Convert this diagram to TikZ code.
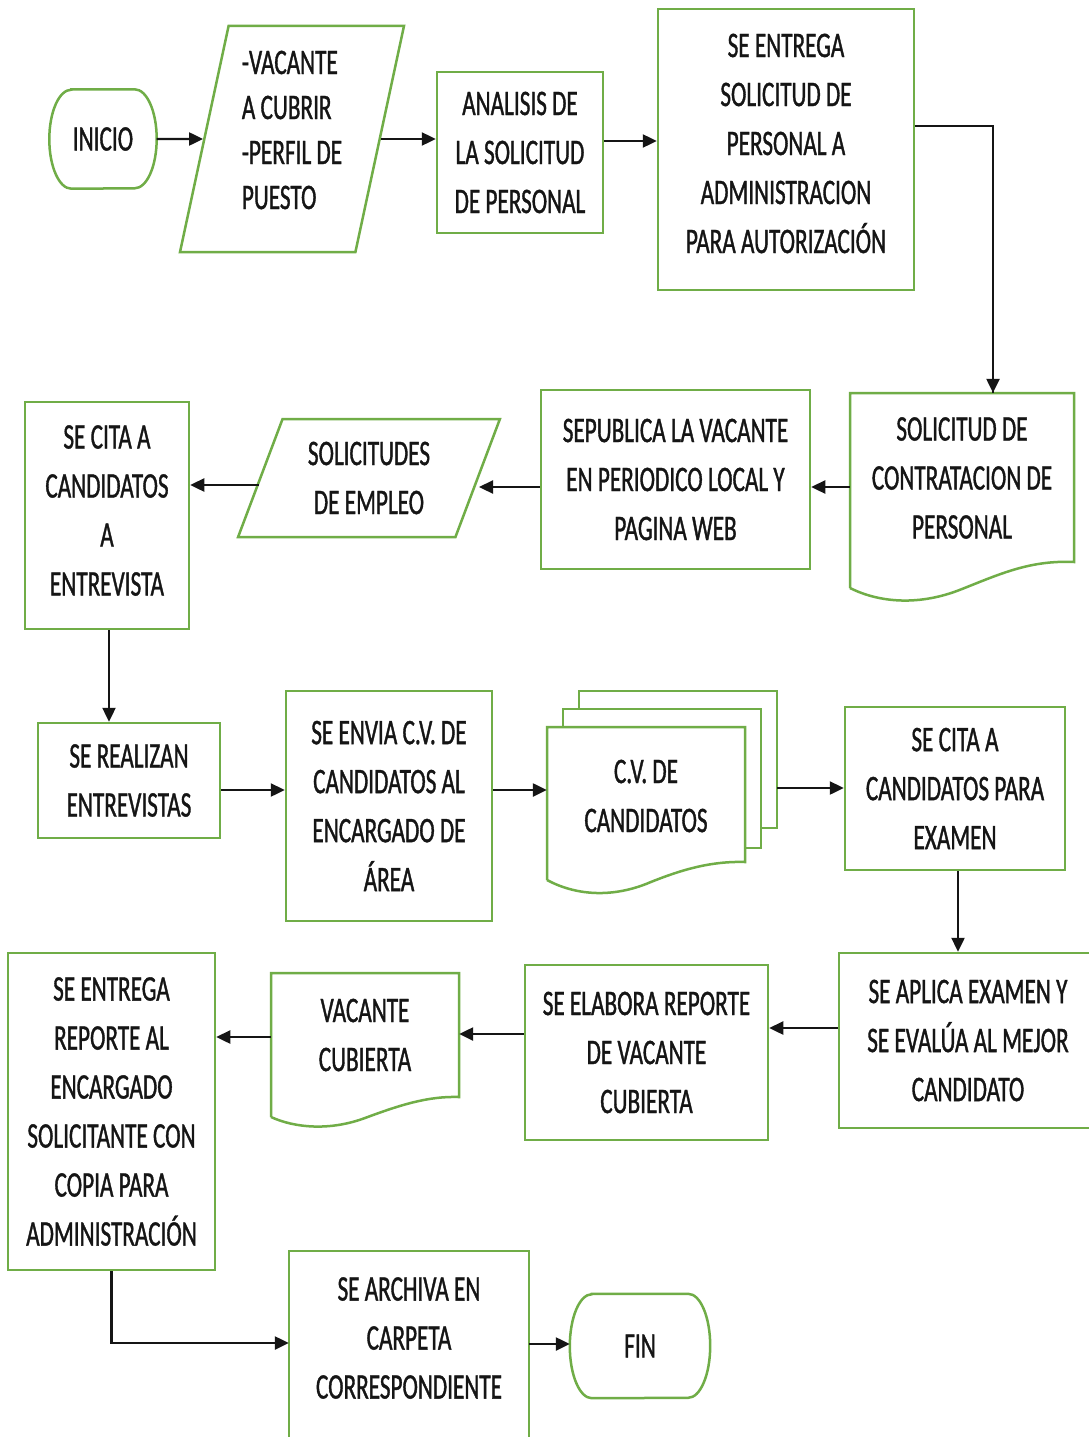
\documentclass[tikz,border=0pt]{standalone}
\usepackage{fontspec}
\setmainfont{Carlito}[FakeStretch=0.645,FakeBold=1]
\usetikzlibrary{arrows.meta,shapes.geometric}
\definecolor{flowgreen}{HTML}{70AD47}
\definecolor{ink}{HTML}{151515}

% outline of a terminator drawn around a (borderless) node
\newcommand\terminalshape[3]{%
  \draw[greenline] ([xshift=#2]#1.north west) -- ([xshift=-#2]#1.north east)
    arc[start angle=90,end angle=-90,x radius=#2,y radius=#3]
    -- ([xshift=#2]#1.south west)
    arc[start angle=270,end angle=90,x radius=#2,y radius=#3] -- cycle;}

\begin{document}
\begin{tikzpicture}[x=1pt,y=-1pt,
  greenline/.style={draw=flowgreen,line width=2.5pt},
  txt/.style={inner sep=0pt,align=center,text=ink,font=\fontsize{36}{49}\selectfont},
  procbox/.style={txt,greenline,rectangle},
  plain/.style={txt,rectangle},
  flow/.style={draw=ink,line width=2.4pt,-{Triangle[length=14pt,width=13pt]}},
]
\path[use as bounding box,clip] (0,0) rectangle (1089,1437);
\fill[white] (0,0) rectangle (1089,1437);

% ---- row 1
\node[plain,minimum width=107pt,minimum height=99pt] (inicio) at (103,139) {INICIO};
\terminalshape{inicio}{22pt}{49.5pt}

\node[greenline,trapezium,trapezium left angle=78.7,trapezium right angle=101.3,
      trapezium stretches=true,minimum width=224pt,minimum height=226pt,inner sep=0pt,
      label={[txt,align=left,font=\fontsize{36}{45}\selectfont,yshift=9pt]center:{-VACANTE\\A CUBRIR\\-PERFIL DE\\PUESTO}}]
      (para1) at (292,139) {\phantom{X}};

\node[procbox,minimum width=166pt,minimum height=161pt] (analisis) at (520,152.5)
      {ANALISIS DE\\LA SOLICITUD\\DE PERSONAL};

\node[greenline,rectangle,minimum width=256pt,minimum height=281pt,inner sep=0pt,
      label={[txt,yshift=6pt]center:{SE ENTREGA\\SOLICITUD DE\\PERSONAL A\\ADMINISTRACION\\PARA AUTORIZACIÓN}}]
      (entrega) at (786,149.5) {};

% ---- row 2
\draw[greenline,fill=white] (850,588) -- (850,393) -- (1074,393) -- (1074,562)
   .. controls (1030,560) and (1000,574) .. (962,589)
   .. controls (920,606) and (880,603) .. (850,588);
\node[plain,minimum width=224pt,minimum height=170pt] (contrat) at (962,478)
      {SOLICITUD DE\\CONTRATACION DE\\PERSONAL};

\node[procbox,minimum width=269pt,minimum height=179pt] (publica) at (675.5,479.5)
      {SEPUBLICA LA VACANTE\\EN PERIODICO LOCAL Y\\PAGINA WEB};

\node[txt,greenline,trapezium,trapezium left angle=66.6,trapezium right angle=113.4,
      trapezium stretches=true,minimum width=262pt,minimum height=118pt] (solicitudes) at (369,478)
      {SOLICITUDES\\DE EMPLEO};

\node[greenline,rectangle,minimum width=164pt,minimum height=227pt,inner sep=0pt,
      label={[txt,yshift=5pt]center:{SE CITA A\\CANDIDATOS\\A\\ENTREVISTA}}]
      (citaent) at (107,515.5) {};

% ---- row 3
\node[procbox,minimum width=182pt,minimum height=115pt] (realizan) at (129,780.5)
      {SE REALIZAN\\ENTREVISTAS};

\node[procbox,minimum width=206pt,minimum height=230pt] (envia) at (389,806)
      {SE ENVIA C.V. DE\\CANDIDATOS AL\\ENCARGADO DE\\ÁREA};

% stacked documents
\draw[greenline,fill=white] (579,691) rectangle (777,828);
\draw[greenline,fill=white] (563,709) rectangle (761,848);
\draw[greenline,fill=white] (547,880) -- (547,727) -- (745,727) -- (745,862)
   .. controls (710,861) and (680,870) .. (646,884)
   .. controls (610,898) and (575,895) .. (547,880);
\node[plain,minimum width=198pt,minimum height=135pt] (cv) at (646,796)
      {C.V. DE\\CANDIDATOS};

\node[procbox,minimum width=220pt,minimum height=163pt] (citaex) at (955,788.5)
      {SE CITA A\\CANDIDATOS PARA\\EXAMEN};

% ---- row 4
\node[procbox,minimum width=258pt,minimum height=175pt] (aplica) at (968,1040.5)
      {SE APLICA EXAMEN Y\\SE EVALÚA AL MEJOR\\CANDIDATO};

\node[procbox,minimum width=243pt,minimum height=175pt] (elabora) at (646.5,1052.5)
      {SE ELABORA REPORTE\\DE VACANTE\\CUBIERTA};

\draw[greenline,fill=white] (271,1117) -- (271,973) -- (459,973) -- (459,1097)
   .. controls (428,1096) and (400,1105) .. (365,1118)
   .. controls (330,1131) and (295,1128) .. (271,1117);
\node[plain,minimum width=188pt,minimum height=124pt] (vacante) at (365,1035)
      {VACANTE\\CUBIERTA};

\node[procbox,minimum width=207pt,minimum height=317pt] (reporte) at (111.5,1111.5)
      {SE ENTREGA\\REPORTE AL\\ENCARGADO\\SOLICITANTE CON\\COPIA PARA\\ADMINISTRACIÓN};

% ---- row 5
\node[plain,minimum width=240pt,minimum height=174pt] (archiva) at (409,1338)
      {SE ARCHIVA EN\\CARPETA\\CORRESPONDIENTE};
\draw[greenline] ([yshift=-150pt]archiva.south west) -- (archiva.north west)
   -- (archiva.north east) -- ([yshift=-150pt]archiva.south east);

\node[plain,minimum width=140pt,minimum height=104pt] (fin) at (640,1346) {FIN};
\terminalshape{fin}{22pt}{52pt}

% ---- connectors
\draw[flow] (inicio) -- (para1);
\draw[flow] (para1.east) -- (para1.east -| analisis.west);
\draw[flow] (analisis.east |- 0,141) -- (entrega.west |- 0,141);
\draw[flow,-] (entrega.east |- 0,126) -| ([xshift=31pt]contrat.north);
\draw[flow] ([xshift=31pt,yshift=40pt]contrat.north) -- ([xshift=31pt]contrat.north);
\draw[flow] (contrat.west |- 0,487) -- (publica.east |- 0,487);
\draw[flow] (publica.west |- 0,487) -- (solicitudes.east |- 0,487);
\draw[flow] (solicitudes.west |- 0,485) -- (citaent.east |- 0,485);
\draw[flow] ([xshift=2pt]citaent.south) -- ([xshift=2pt]citaent.south |- realizan.north);
\draw[flow] (realizan.east |- 0,790) -- (envia.west |- 0,790);
\draw[flow] (envia.east |- 0,790) -- (cv.west |- 0,790);
\draw[flow] ([xshift=32pt]cv.east |- 0,788) -- (citaex.west |- 0,788);
\draw[flow] (citaex.south -| 958,0) -- (aplica.north -| 958,0);
\draw[flow] (aplica.west |- 0,1028) -- (elabora.east |- 0,1028);
\draw[flow] (elabora.west |- 0,1034) -- (vacante.east |- 0,1034);
\draw[flow] (vacante.west |- 0,1037) -- (reporte.east |- 0,1037);
\draw[flow] (reporte.south) |- (archiva.west |- 0,1343);
\draw[flow] (archiva.east |- 0,1344) -- (fin.west |- 0,1344);
\end{tikzpicture}
\end{document}
